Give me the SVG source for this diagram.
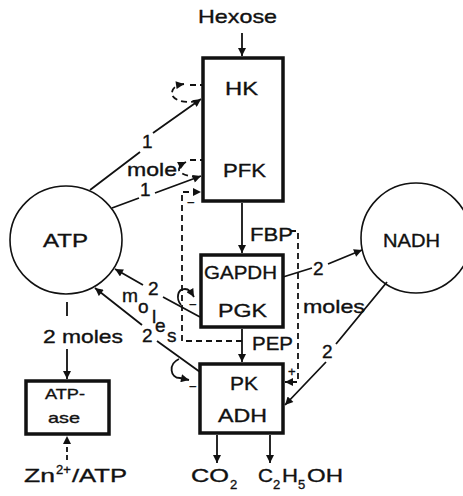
<svg xmlns="http://www.w3.org/2000/svg" width="463" height="496" viewBox="0 0 463 496">
<style>
text{font-family:"Liberation Sans",Arial,sans-serif;font-size:19px;fill:#111;stroke:#111;stroke-width:0.35}
.sm{font-size:15px}
.sub{font-size:13px}
.box{fill:#fff;stroke:#111;stroke-width:3.5}
.circ{fill:none;stroke:#111;stroke-width:1.6}
.ln{fill:none;stroke:#111;stroke-width:1.8}
.ds{fill:none;stroke:#111;stroke-width:1.8;stroke-dasharray:6 4}
.ar{marker-end:url(#ah)}
</style>
<defs>
<marker id="ah" viewBox="0 0 10 10" refX="10" refY="5" markerWidth="9" markerHeight="8" orient="auto" markerUnits="userSpaceOnUse">
<path d="M0,0 L10,5 L0,10 z" fill="#111"/>
</marker>
</defs>
<rect width="463" height="496" fill="#fff"/>

<g id="connectors">
<path class="ln ar" d="M242,33 L242,56"/>
<path class="ln" d="M242,106 L242,147"/>
<path class="ln ar" d="M242,203 L242,253"/>
<path class="ln" d="M242,289 L242,295"/>
<path class="ln ar" d="M242,329 L242,362"/>
<path class="ln" d="M242,394 L242,399"/>
<path class="ln ar" d="M217,435 L217,463"/>
<path class="ln ar" d="M270,435 L270,463"/>
<path class="ln ar" d="M90,190 L140,152 M153,133 L201,99"/>
<path class="ln ar" d="M112,208 L139,198 M155,193 L201,176"/>
<path class="ln ar" d="M200,317 L163,297 M143,285 L115,269"/>
<path class="ln ar" d="M200,372 L157,341 M142,325 L95,288"/>
<path class="ln ar" d="M283,277 L312,268 M328,264 L362,250"/>
<path class="ln ar" d="M387,282 L336,344 M326,362 L285,405"/>
<path class="ln ar" d="M67,302 L67,316 M67,349 L67,379"/>
<path class="ln ar" d="M67,460 L67,436" stroke-dasharray="5 3"/>
<path class="ds ar" d="M197,101 C186,104 170,100 172,92 C173,87 177,85 184,84" stroke-dasharray="4 3"/>
<path class="ds" d="M190,85 L202,85" stroke-dasharray="5 3"/>
<path class="ds ar" d="M198,177 C188,177 178,173 179,169 C180,165 182,164 186,162" stroke-dasharray="4 3"/>
<path class="ds" d="M190,160 L202,160" stroke-dasharray="5 3"/>
<path class="ds ar" d="M242,341 L182,341 L182,192 L201,192"/>
<path class="ds ar" d="M290,231 L298,231 L298,382 L285,382"/>
<path class="ln ar" d="M181,305 C176,299 177,289 185,289 C189,289 191,292 194,297"/>
<path class="ln ar" d="M179,359 C168,364 170,378 180,378 L189,380"/>
</g>

<g id="node-hexose"><text x="198" y="23" textLength="79" lengthAdjust="spacingAndGlyphs">Hexose</text></g>

<g id="node-hk-pfk">
<rect class="box" x="203" y="58" width="80" height="143"/>
<text x="225" y="95" textLength="33" lengthAdjust="spacingAndGlyphs">HK</text>
<text x="223" y="177" textLength="43" lengthAdjust="spacingAndGlyphs">PFK</text>
</g>

<g id="node-gapdh-pgk">
<rect class="box" x="201" y="255" width="82" height="72"/>
<text x="204" y="279" textLength="73" lengthAdjust="spacingAndGlyphs">GAPDH</text>
<text x="218" y="317" textLength="49" lengthAdjust="spacingAndGlyphs">PGK</text>
</g>

<g id="node-pk-adh">
<rect class="box" x="200" y="364" width="83" height="69"/>
<text x="230" y="390" textLength="28" lengthAdjust="spacingAndGlyphs">PK</text>
<text x="218" y="422" textLength="49" lengthAdjust="spacingAndGlyphs">ADH</text>
</g>

<g id="node-atpase">
<rect class="box" x="26" y="381" width="83" height="53"/>
<text class="sm" x="45" y="399" textLength="40" lengthAdjust="spacingAndGlyphs">ATP-</text>
<text class="sm" x="48" y="423" textLength="32" lengthAdjust="spacingAndGlyphs">ase</text>
</g>

<g id="node-atp">
<ellipse class="circ" cx="66" cy="240" rx="56" ry="54"/>
<text x="43" y="247" textLength="45" lengthAdjust="spacingAndGlyphs">ATP</text>
</g>

<g id="node-nadh">
<circle class="circ" cx="416" cy="238" r="55"/>
<text x="383" y="247" textLength="57" lengthAdjust="spacingAndGlyphs">NADH</text>
</g>

<g id="node-zn">
<text x="24" y="482" textLength="31" lengthAdjust="spacingAndGlyphs">Zn</text>
<text class="sub" x="56" y="474">2+</text>
<text x="72" y="482" textLength="55" lengthAdjust="spacingAndGlyphs">/ATP</text>
</g>

<g id="node-co2">
<text x="191" y="482" textLength="38" lengthAdjust="spacingAndGlyphs">CO</text>
<text class="sub" x="230" y="489">2</text>
</g>

<g id="node-ethanol">
<text x="258" y="482" textLength="15" lengthAdjust="spacingAndGlyphs">C</text>
<text class="sub" x="273" y="489">2</text>
<text x="282" y="482" textLength="16" lengthAdjust="spacingAndGlyphs">H</text>
<text class="sub" x="298" y="489">5</text>
<text x="307" y="482" textLength="36" lengthAdjust="spacingAndGlyphs">OH</text>
</g>

<g id="labels">
<text x="250" y="241" textLength="43" lengthAdjust="spacingAndGlyphs">FBP</text>
<text x="252" y="350" textLength="41" lengthAdjust="spacingAndGlyphs">PEP</text>
<text x="142" y="148">1</text>
<text x="140" y="196" font-size="18">1</text>
<text x="127" y="176" textLength="50" lengthAdjust="spacingAndGlyphs">mole</text>
<text x="148" y="295">2</text>
<text x="122" y="302" textLength="16" lengthAdjust="spacingAndGlyphs">m</text>
<text x="138" y="313">o</text>
<text x="152" y="323">l</text>
<text x="155" y="332">e</text>
<text x="142" y="342">2</text>
<text x="167" y="342">s</text>
<text x="313" y="275">2</text>
<text x="303" y="313" textLength="62" lengthAdjust="spacingAndGlyphs">moles</text>
<text x="322" y="358">2</text>
<text x="43" y="343" textLength="80" lengthAdjust="spacingAndGlyphs">2 moles</text>
<text class="sub" x="187" y="207">−</text>
<text class="sub" x="189" y="309">−</text>
<text class="sub" x="189" y="391">−</text>
<text class="sub" x="288" y="376">+</text>
</g>
</svg>
